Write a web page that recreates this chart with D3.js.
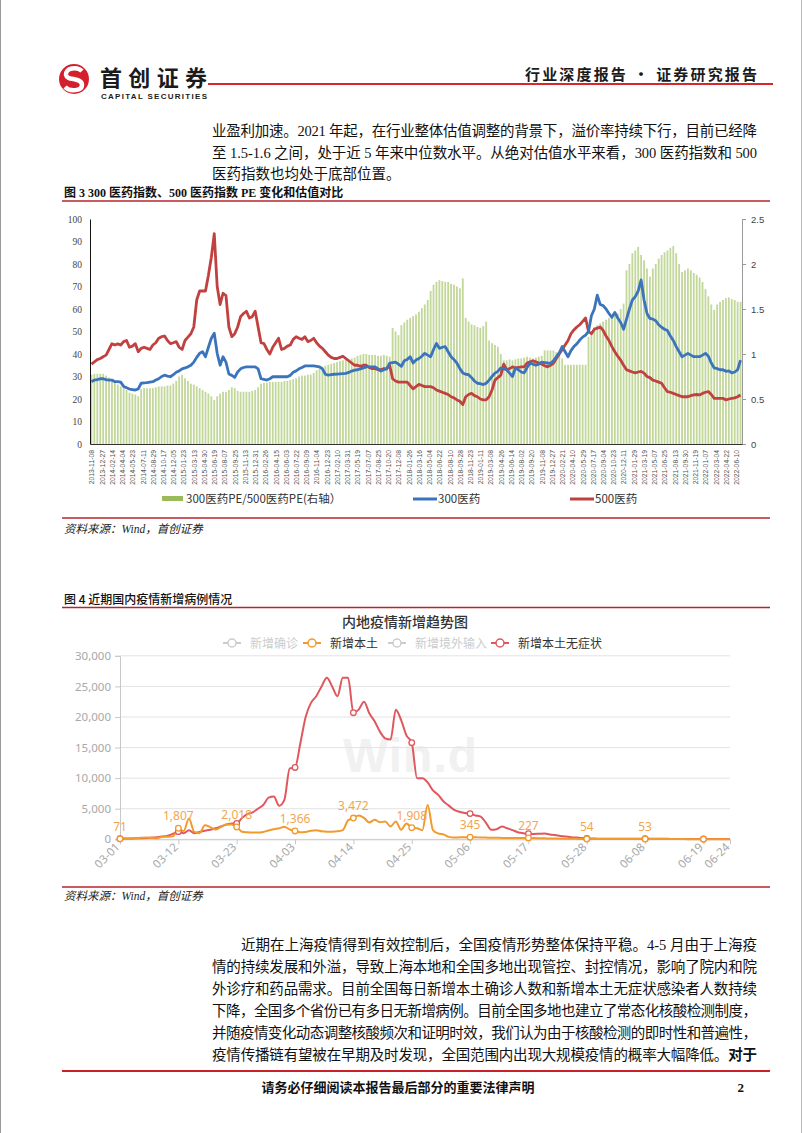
<!DOCTYPE html>
<html>
<head>
<meta charset="utf-8">
<script src="https://cdn.jsdelivr.net/npm/d3@7/dist/d3.min.js"></script>
<style>
body { margin: 0; background: #fff; }
svg { display: block; }
</style>
</head>
<body>
<svg id="page" width="802" height="1133"></svg>
<script>
// ---- figure 3 data (biweekly points, 2013-11-08 .. 2022-06) ----
var peLabels = ["2013-11-08","2013-12-27","2014-02-14","2014-04-04","2014-05-23","2014-07-11","2014-08-29","2014-10-17","2014-12-05","2015-01-23","2015-03-13","2015-04-30","2015-06-19","2015-08-07","2015-09-25","2015-11-13","2015-12-31","2016-02-26","2016-04-15","2016-06-03","2016-07-22","2016-09-09","2016-11-04","2016-12-23","2017-02-10","2017-03-31","2017-05-19","2017-07-07","2017-08-25","2017-10-20","2017-12-08","2018-01-26","2018-03-16","2018-05-04","2018-06-22","2018-08-10","2018-09-28","2018-11-23","2019-01-11","2019-03-08","2019-04-26","2019-06-14","2019-08-02","2019-09-20","2019-11-08","2019-12-27","2020-02-21","2020-04-10","2020-05-29","2020-07-17","2020-09-04","2020-10-23","2020-12-11","2021-01-29","2021-03-19","2021-05-07","2021-06-25","2021-08-13","2021-09-30","2021-11-19","2022-01-07","2022-03-04","2022-04-22","2022-06-10"];

var pe300 = [
27.7,28.4,28.6,29,29,28.6,28.4,28.4,27.7,27.7,
27.5,25.6,25,24.4,24.2,24,24.5,27,27.2,27.3,
27.5,27.7,28.4,29,30,30.6,30.2,29.9,30.8,31.9,
32.5,33.4,33.8,34.3,35,36.4,38.5,40.3,41,38.8,
43,47,49.2,40.3,35,38.8,36.4,31.1,30.5,29.6,
32,33.4,34,34.3,34.3,34.3,34.3,33.4,29,28.7,
28.4,29,29.9,29.9,29.9,29.9,29.9,29.9,30.5,31.9,
32.5,33.4,34,34.7,34.7,34.7,34.7,34.5,34.3,33.4,
31,30.6,30.8,31,31.1,31.2,31.3,31.4,31.8,32.4,
32.8,33,33.4,33.8,34.3,34.3,34.3,34.3,33.5,32.4,
33,33.4,35.9,36.2,36.4,35.5,34.5,37,37.6,38.8,
36,37.3,38,39,40.3,39.5,38.8,42,44.7,42.5,
43,43.3,41,38.8,37.5,35.9,33.5,31.6,31,30.8,
29.5,28,27,26.8,26.4,27,28.4,30,31.5,32.3,
33.8,33.4,33,31.5,30,33.8,33,32,31.6,34,
35.9,35.5,35,35.5,36.4,36.2,36,35.9,37,38.8,
40.5,43.3,41,38.8,41.5,43.3,44.5,46.2,47.5,48.4,
50,57,60,66.2,62,61.5,60,58,56.3,58.5,
56,54,51,55.5,60,64,65.5,68,72.9,64,
58,55.8,55.5,54.8,53,51.9,51,50.4,48,46,
43.3,41,38.8,39.5,40.3,39.5,38.8,38.8,38.8,39.5,
40.3,39,36,33.8,33.5,33,33,32.3,32.5,31.6,
32,33,37.3];

var pe500 = [
35.5,36.5,37.5,38,38.8,39.5,42,44.6,44,44.5,
44,45.5,46,43,43.5,44.6,41,42.5,43,42.5,
42,44,45,47,47.7,48,46,44.6,45,45.5,
43,42,46,47.5,49,52,64,68,68,68,
75,83,93.5,70,62,67,66,52,47.7,49,
52,56.6,58,59,56,56.6,59,52,45,44.6,
42,40,43,45,47,42,42.5,43.5,44,46.5,
47.7,47,46.5,47.7,45.5,46,47,45,43.5,42.5,
41,39.5,38.5,38,38,38.5,39,38,37,36,
35,35,34.5,35,35,34,33.5,33.5,33,33,
33.5,33.5,35,29,28,27.5,27.5,27.5,27.5,26,
24.5,25.5,26.5,26,25.5,25.5,25.5,25,24,23.5,
23,22.5,22,21,20.5,19.6,19,17.5,21,22,
22.5,21.5,21,20,19.6,19.6,21,24,28.4,29.5,
30.6,35.5,33,33.5,34.3,33.8,34,34.3,34.3,36,
36.5,37,36.5,36,35.5,34.8,34.3,35,35.9,38,
40,42,44,46,49,50.7,52,53,54.5,56,
50,49,51,51.5,52,50.5,48,46,43.3,41,
39,37.3,35,33,32.5,32,31.6,32,32.3,31.5,
30,29.5,28.4,28,27.5,27,25,23.3,23,22.5,
22,21.5,21,21,21,21.5,21.8,22,21.8,22.5,
23,23.3,22,20.3,20.3,20.3,20.3,19.6,20,20.3,
20.5,21,21.8];

var peRatio = [
0.77,0.78,0.78,0.78,0.78,0.76,0.74,0.7,0.68,0.66,
0.64,0.62,0.6,0.57,0.56,0.55,0.53,0.61,0.62,0.62,
0.62,0.62,0.63,0.64,0.64,0.64,0.65,0.65,0.67,0.7,
0.75,0.77,0.73,0.7,0.67,0.66,0.64,0.62,0.6,0.58,
0.56,0.53,0.49,0.53,0.56,0.58,0.58,0.6,0.63,0.62,
0.59,0.58,0.58,0.58,0.58,0.59,0.6,0.63,0.67,0.68,
0.68,0.69,0.69,0.69,0.69,0.69,0.7,0.7,0.71,0.72,
0.73,0.75,0.76,0.76,0.77,0.77,0.79,0.82,0.84,0.86,
0.87,0.88,0.89,0.9,0.91,0.92,0.93,0.94,0.94,0.95,
0.96,0.98,0.99,1.0,1.0,0.99,0.99,0.99,0.98,0.98,
0.99,0.98,0.97,1.29,1.25,1.21,1.32,1.35,1.38,1.4,
1.42,1.44,1.47,1.51,1.55,1.6,1.7,1.77,1.8,1.82,
1.81,1.8,1.8,1.78,1.77,1.75,1.73,1.84,1.4,1.36,
1.33,1.32,1.3,1.29,1.31,1.36,1.15,1.12,1.1,1.08,
1.0,0.93,0.93,0.94,0.93,0.94,0.95,0.95,0.96,0.97,
0.96,0.95,0.96,0.97,0.98,1.04,1.04,1.04,1.04,1.02,
1.0,0.95,0.88,0.88,0.88,0.88,0.88,0.88,0.88,0.88,
1.19,1.25,1.3,1.32,1.34,1.36,1.38,1.4,1.41,1.43,
1.45,1.5,1.56,1.93,2.0,2.12,2.15,2.19,2.1,2.04,
1.95,1.86,1.95,2.0,2.06,2.1,2.13,2.15,2.18,2.2,
2.12,2.0,1.91,1.93,1.95,1.93,1.9,1.88,1.85,1.8,
1.72,1.64,1.55,1.49,1.55,1.58,1.6,1.62,1.63,1.61,
1.6,1.58,1.58];

var peLegend = ["300医药PE/500医药PE(右轴）", "300医药", "500医药"];

// ---- figure 4 data (daily, 03-01 .. 06-24) ----
var covidTicks = ["03-01","03-12","03-23","04-03","04-14","04-25","05-06","05-17","05-28","06-08","06-19","06-24"];

var localCases = [
71,100,120,175,238,290,214,175,400,400,
476,1807,1338,3400,1200,1000,2300,2000,1600,2000,
2400,2400,2018,1250,1150,1100,1100,1200,1450,1650,
1800,2050,1600,1366,1150,1200,1400,1500,1300,1250,
1250,1300,1500,3100,3472,3900,3500,2750,3200,2800,
2900,2100,2900,1550,2600,1908,1800,1500,5600,1500,
950,800,400,300,320,350,345,330,300,280,
260,250,230,220,210,230,230,227,200,180,
160,140,120,100,90,80,70,60,54,50,
45,40,40,45,50,45,40,40,50,53,
50,45,40,35,35,30,30,28,28,26,
25,22,22,20,20,20];

var asymCases = [
100,120,140,160,170,200,280,350,450,600,
900,1250,1000,1500,1000,1200,1400,1550,1800,2100,
2400,2600,2600,3500,4100,4400,5000,5600,6800,7000,
5500,6500,11600,11750,15700,20000,22300,23400,25000,26400,
25000,23400,26400,26400,20700,21200,22500,20600,19300,17600,
16500,16300,21200,19500,17000,15800,10000,10000,9300,8000,
7260,6170,5500,4800,4500,4300,4200,3900,3700,2700,
1550,1640,2100,1800,1500,1150,1000,930,870,900,
930,800,700,550,440,350,280,200,150,120,
110,100,100,95,90,90,85,80,80,80,
75,75,70,70,65,60,60,55,50,50,
50,45,45,40,40,40];

var covidLegend = [
  { name: "新增确诊", on: false },
  { name: "新增本土", on: true },
  { name: "新增境外输入", on: false },
  { name: "新增本土无症状", on: true }
];

var para1 = [
  "业盈利加速。2021 年起，在行业整体估值调整的背景下，溢价率持续下行，目前已经降",
  "至 1.5-1.6 之间，处于近 5 年来中位数水平。从绝对估值水平来看，300 医药指数和 500",
  "医药指数也均处于底部位置。"
];
var para2 = [
  "近期在上海疫情得到有效控制后，全国疫情形势整体保持平稳。4-5 月由于上海疫",
  "情的持续发展和外溢，导致上海本地和全国多地出现管控、封控情况，影响了院内和院",
  "外诊疗和药品需求。目前全国每日新增本土确诊人数和新增本土无症状感染者人数持续",
  "下降，全国多个省份已有多日无新增病例。目前全国多地也建立了常态化核酸检测制度，",
  "并随疫情变化动态调整核酸频次和证明时效，我们认为由于核酸检测的即时性和普遍性，",
  "疫情传播链有望被在早期及时发现，全国范围内出现大规模疫情的概率大幅降低。"
];

var serif = "'Liberation Serif','Noto Sans CJK SC',serif";
var cjk = "'Noto Sans CJK SC',sans-serif";

var svg = d3.select("#page");

// page edges
svg.append("line").attr("x1", 0.5).attr("x2", 0.5).attr("y1", 0).attr("y2", 1133).attr("stroke", "#999");
svg.append("line").attr("x1", 801.5).attr("x2", 801.5).attr("y1", 0).attr("y2", 1133).attr("stroke", "#bbb");

// ---------- header ----------
var logo = svg.append("g");
logo.append("circle").attr("cx", 74).attr("cy", 79).attr("r", 15).attr("fill", "#d4202c");
logo.append("path")
	.attr("d", "M82,71 C77,66 65,68 66,75 C67,81 82,77 82,85 C82,91 70,92 65,87")
	.attr("fill", "none").attr("stroke", "#fff").attr("stroke-width", 4.5);
svg.append("text").attr("x", 100).attr("y", 86)
	.attr("font-family", cjk).attr("font-weight", "bold").attr("font-size", 22)
	.attr("textLength", 107).attr("fill", "#1b1b1b").text("首创证券");
svg.append("text").attr("x", 101).attr("y", 98.5)
	.attr("font-family", "'Liberation Sans',sans-serif").attr("font-weight", "bold").attr("font-size", 8)
	.attr("textLength", 106).attr("fill", "#1b1b1b").text("CAPITAL SECURITIES");
svg.append("line").attr("x1", 208).attr("x2", 773).attr("y1", 84).attr("y2", 84)
	.attr("stroke", "#d7262e").attr("stroke-width", 2);
svg.append("text").attr("x", 757).attr("y", 80).attr("text-anchor", "end")
	.attr("font-family", cjk).attr("font-weight", "bold").attr("font-size", 15)
	.attr("textLength", 232).attr("fill", "#1b1b1b").text("行业深度报告 · 证券研究报告");

// ---------- paragraph 1 ----------
para1.forEach(function(s, i){
	var t = svg.append("text").attr("x", 212).attr("y", 136 + i * 21.7)
		.attr("font-family", serif).attr("font-size", 14.5).attr("fill", "#111").text(s);
	if (i < para1.length - 1) t.attr("textLength", 545).attr("lengthAdjust", "spacing");
});

// ---------- figure 3 ----------
svg.append("text").attr("x", 64).attr("y", 197).attr("font-family", serif)
	.attr("font-size", 12).attr("font-weight", "bold").attr("fill", "#111")
	.text("图 3 300 医药指数、500 医药指数 PE 变化和估值对比");
svg.append("line").attr("x1", 62).attr("x2", 770).attr("y1", 201).attr("y2", 201)
	.attr("stroke", "#b3262c").attr("stroke-width", 1.5);

var p1 = { left: 90, right: 742, top: 219, bottom: 444 };
var nWeeks = pe300.length * 2;
var xw = d3.scaleLinear().domain([-1, nWeeks - 1]).range([p1.left, p1.right]);
var yL = d3.scaleLinear().domain([0, 100]).range([p1.bottom, p1.top]);
var yR = d3.scaleLinear().domain([0, 2.5]).range([p1.bottom, p1.top]);

var g1 = svg.append("g").attr("class", "pe-chart");

g1.selectAll("rect.ratio")
	.data(peRatio)
	.enter()
	.append("rect")
		.attr("class", "ratio")
		.attr("x", function(d, i){ return xw(i * 2) - 0.9; })
		.attr("y", function(d){ return yR(d); })
		.attr("width", 1.8)
		.attr("height", function(d){ return p1.bottom - yR(d); })
		.attr("fill", "#c2d79a");

var line1 = d3.line()
	.x(function(d, i){ return xw(i * 2); })
	.y(function(d){ return yL(d); });

g1.append("path").datum(pe500).attr("d", line1)
	.attr("fill", "none").attr("stroke", "#c0413f").attr("stroke-width", 2.8).attr("stroke-linejoin", "round");
g1.append("path").datum(pe300).attr("d", line1)
	.attr("fill", "none").attr("stroke", "#3b74bd").attr("stroke-width", 2.8).attr("stroke-linejoin", "round");

// left axis
var yLAxis = d3.axisLeft(yL).tickValues(d3.range(0, 101, 10)).tickSize(0).tickPadding(8);
var gyl = g1.append("g").attr("transform", "translate(" + p1.left + ",0)").call(yLAxis);
gyl.select(".domain").attr("stroke", "#111");
gyl.selectAll("text").attr("font-family", "'Liberation Serif',serif").attr("font-size", 9.5).attr("fill", "#444");

// right axis
var yRAxis = d3.axisRight(yR).tickValues([0, 0.5, 1, 1.5, 2, 2.5]).tickSize(4).tickPadding(5)
	.tickFormat(function(d){ return String(d); });
var gyr = g1.append("g").attr("transform", "translate(" + p1.right + ",0)").call(yRAxis);
gyr.select(".domain").attr("stroke", "#9a9a9a");
gyr.selectAll(".tick line").attr("stroke", "#9a9a9a");
gyr.selectAll("text").attr("font-family", "'Liberation Sans',sans-serif").attr("font-size", 9.5).attr("fill", "#444");

// bottom axis
var xAxis1 = d3.axisBottom(xw)
	.tickValues(peLabels.map(function(d, i){ return i * 7; }))
	.tickFormat(function(d, i){ return peLabels[i]; })
	.tickSize(0);
var gx1 = g1.append("g").attr("transform", "translate(0," + p1.bottom + ")").call(xAxis1);
gx1.select(".domain").attr("stroke", "#333").attr("stroke-width", 1.2);
gx1.selectAll("text")
	.attr("transform", "rotate(-90)")
	.attr("x", -6).attr("y", 0).attr("dy", "0.35em")
	.attr("text-anchor", "end")
	.attr("font-family", "'Liberation Sans',sans-serif")
	.attr("font-size", 6.8).attr("fill", "#555");

// legend
var lg1 = g1.append("g").attr("font-family", cjk).attr("font-size", 11.5).attr("fill", "#333");
lg1.append("rect").attr("x", 162).attr("y", 496).attr("width", 21).attr("height", 5).attr("fill", "#9bbb59");
lg1.append("text").attr("x", 186).attr("y", 503).text(peLegend[0]);
lg1.append("line").attr("x1", 413).attr("x2", 437).attr("y1", 499).attr("y2", 499).attr("stroke", "#3b74bd").attr("stroke-width", 3);
lg1.append("text").attr("x", 438).attr("y", 503).text(peLegend[1]);
lg1.append("line").attr("x1", 570).attr("x2", 594).attr("y1", 499).attr("y2", 499).attr("stroke", "#c0413f").attr("stroke-width", 3);
lg1.append("text").attr("x", 595).attr("y", 503).text(peLegend[2]);

svg.append("line").attr("x1", 62).attr("x2", 770).attr("y1", 518).attr("y2", 518)
	.attr("stroke", "#b3262c").attr("stroke-width", 1.5);
svg.append("text").attr("x", 64).attr("y", 533).attr("font-family", serif)
	.attr("font-size", 11.5).attr("font-style", "italic").attr("fill", "#222")
	.text("资料来源：Wind，首创证券");

// ---------- figure 4 ----------
svg.append("text").attr("x", 64).attr("y", 604).attr("font-family", cjk)
	.attr("font-size", 12).attr("font-weight", 500).attr("fill", "#111")
	.text("图 4  近期国内疫情新增病例情况");
svg.append("line").attr("x1", 62).attr("x2", 770).attr("y1", 607.5).attr("y2", 607.5)
	.attr("stroke", "#b3262c").attr("stroke-width", 1.5);

var p2 = { left: 120, right: 730, top: 655.8, bottom: 839.3 };
var days = d3.timeDay.range(new Date(2022, 2, 1), new Date(2022, 5, 25)).map(d3.timeFormat("%m-%d"));
var x2 = d3.scaleLinear().domain([0, days.length - 1]).range([p2.left, p2.right]);
var y2 = d3.scaleLinear().domain([0, 30000]).range([p2.bottom, p2.top]);
var orange = "#f29a2e", pink = "#e0585d";

var g2 = svg.append("g").attr("class", "covid-chart");

g2.append("text").attr("x", 405).attr("y", 627).attr("text-anchor", "middle")
	.attr("font-family", cjk).attr("font-size", 14).attr("font-weight", 500).attr("fill", "#333")
	.text("内地疫情新增趋势图");

// legend
var legX = [223, 303, 388, 491];
var legColors = ["#ccc", orange, "#ccc", pink];
covidLegend.forEach(function(d, i){
	var lg = g2.append("g").attr("transform", "translate(" + legX[i] + ",643)");
	var c = d.on ? legColors[i] : "#ccc";
	lg.append("line").attr("x1", 0).attr("x2", 18).attr("stroke", c).attr("stroke-width", 2);
	lg.append("circle").attr("cx", 9).attr("r", 4).attr("fill", "#fff").attr("stroke", c).attr("stroke-width", 1.5);
	lg.append("text").attr("x", 27).attr("y", 4.5).attr("font-family", cjk).attr("font-size", 12)
		.attr("fill", d.on ? "#333" : "#ccc").text(d.name);
});

// watermark
g2.append("text").attr("x", 343).attr("y", 772).attr("font-family", "'Liberation Sans',sans-serif")
	.attr("font-weight", "bold").attr("font-size", 48).attr("textLength", 134)
	.attr("fill", "#f1f1f1").text("Win.d");

// grid + y axis
var yTicks2 = d3.range(0, 30001, 5000);
g2.selectAll("line.grid").data(yTicks2).enter().append("line")
	.attr("class", "grid")
	.attr("x1", p2.left).attr("x2", p2.right)
	.attr("y1", function(d){ return y2(d); }).attr("y2", function(d){ return y2(d); })
	.attr("stroke", "#e3e3e3");
var yAxis2 = d3.axisLeft(y2).tickValues(yTicks2).tickFormat(d3.format(",")).tickSize(5).tickPadding(4);
var gy2 = g2.append("g").attr("transform", "translate(" + p2.left + ",0)").call(yAxis2);
gy2.select(".domain").attr("stroke", "#c8c8c8");
gy2.selectAll(".tick line").attr("stroke", "#c8c8c8");
gy2.selectAll("text").attr("font-family", "'Noto Sans',sans-serif").attr("font-size", 11.5).attr("fill", "#a8a8a8");

// x axis
var tickDays = covidTicks.map(function(t){ return days.indexOf(t); });
var xAxis2 = d3.axisBottom(x2).tickValues(tickDays)
	.tickFormat(function(d){ return days[d]; }).tickSize(5).tickSizeOuter(0);
var gx2 = g2.append("g").attr("transform", "translate(0," + p2.bottom + ")").call(xAxis2);
gx2.select(".domain").attr("stroke", "#c8c8c8");
gx2.selectAll(".tick line").attr("stroke", "#c8c8c8");
gx2.selectAll("text")
	.attr("transform", "rotate(-45)")
	.attr("x", -6).attr("y", 6).attr("dy", 0)
	.attr("text-anchor", "end")
	.attr("font-family", "'Noto Sans',sans-serif").attr("font-size", 11.5).attr("fill", "#a8a8a8");

// lines
var line2 = d3.line()
	.x(function(d, i){ return x2(i); })
	.y(function(d){ return y2(d); })
	.curve(d3.curveMonotoneX);

g2.append("path").datum(asymCases).attr("d", line2)
	.attr("fill", "none").attr("stroke", pink).attr("stroke-width", 2);
g2.append("path").datum(localCases).attr("d", line2)
	.attr("fill", "none").attr("stroke", orange).attr("stroke-width", 2);

// markers at tick days (the last tick has none)
var markDays = tickDays.slice(0, tickDays.length - 1);
[[asymCases, pink], [localCases, orange]].forEach(function(s){
	g2.selectAll(null).data(markDays).enter().append("circle")
		.attr("cx", function(d){ return x2(d); })
		.attr("cy", function(d){ return y2(s[0][d]); })
		.attr("r", 2.8).attr("fill", "#fff").attr("stroke", s[1]).attr("stroke-width", 1.3);
});

// value labels on 新增本土
g2.selectAll("text.vlabel").data(markDays.slice(0, markDays.length - 1)).enter().append("text")
	.attr("class", "vlabel")
	.attr("x", function(d){ return x2(d); })
	.attr("y", function(d){ return y2(localCases[d]) - 8; })
	.attr("text-anchor", "middle")
	.attr("font-family", "'Noto Sans',sans-serif").attr("font-size", 12).attr("fill", "#f2a650")
	.text(function(d){ return d3.format(",")(localCases[d]); });

svg.append("line").attr("x1", 62).attr("x2", 770).attr("y1", 887).attr("y2", 887)
	.attr("stroke", "#b3262c").attr("stroke-width", 1.5);
svg.append("text").attr("x", 64).attr("y", 900).attr("font-family", serif)
	.attr("font-size", 11.5).attr("font-style", "italic").attr("fill", "#222")
	.text("资料来源：Wind，首创证券");

// ---------- paragraph 2 ----------
para2.forEach(function(s, i){
	var x0 = i === 0 ? 241 : 212;
	var t = svg.append("text").attr("x", x0).attr("y", 950 + i * 22)
		.attr("font-family", serif).attr("font-size", 14.5).attr("fill", "#111");
	t.append("tspan").text(s);
	if (i === para2.length - 1) t.append("tspan").attr("font-weight", "bold").text("对于");
	t.attr("textLength", 757 - x0).attr("lengthAdjust", "spacing");
});

// ---------- footer ----------
svg.append("line").attr("x1", 62).attr("x2", 770).attr("y1", 1071).attr("y2", 1071)
	.attr("stroke", "#c9202a").attr("stroke-width", 2);
svg.append("text").attr("x", 398).attr("y", 1092).attr("text-anchor", "middle")
	.attr("font-family", cjk).attr("font-weight", "bold").attr("font-size", 13).attr("fill", "#111")
	.text("请务必仔细阅读本报告最后部分的重要法律声明");
svg.append("text").attr("x", 744).attr("y", 1092).attr("text-anchor", "end")
	.attr("font-family", serif).attr("font-weight", "bold").attr("font-size", 13).attr("fill", "#111")
	.text("2");
</script>
</body>
</html>
